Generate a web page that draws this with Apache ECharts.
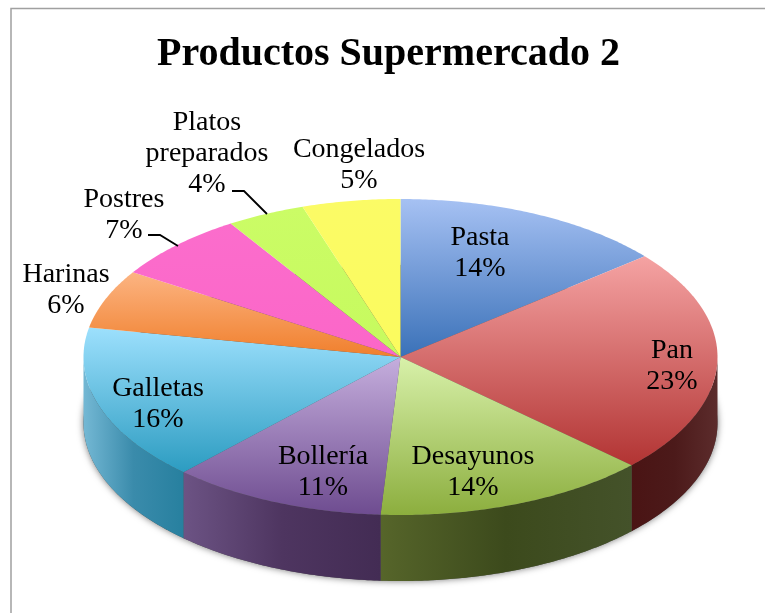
<!DOCTYPE html>
<html>
<head>
<meta charset="utf-8">
<title>Productos Supermercado 2</title>
<script src="https://cdn.jsdelivr.net/npm/echarts@6/dist/echarts.min.js"></script>
<style>
  html, body { margin: 0; padding: 0; background: #fff; }
  #chart { width: 765px; height: 613px; }
</style>
</head>
<body>
<div id="chart"></div>
<script>
"use strict";

var categories = ['Pasta', 'Pan', 'Desayunos', 'Bollería', 'Galletas', 'Harinas', 'Postres', 'Platos preparados', 'Congelados'];
var shares = [14, 23, 14, 11, 16, 6, 7, 4, 5];

// top face: light -> saturated, side wall: left -> middle -> right
var topColors = [
  ['#a6c1f3', '#3a71b8'], ['#f5a3a3', '#b23433'], ['#d8f1aa', '#8cae3e'],
  ['#c5aedd', '#6e4c90'], ['#9de0fd', '#2c9cc1'], ['#fcb482', '#f07f2c'],
  ['#fb6dcc', '#fb66c8'], ['#cbfc66', '#c6fa5e'], ['#fbfb66', '#fbfb5e']
];
var sideColors = [
  ['#2c5487', '#2c5487', '#2c5487'], ['#4a1414', '#4c1a1a', '#5c2c2c'], ['#56652a', '#3c4a1c', '#44522a'],
  ['#6c5384', '#4e3560', '#432c54'], ['#74b8d4', '#3a8bab', '#27809f'], ['#b5602a', '#b5602a', '#b5602a'],
  ['#b84a92', '#b84a92', '#b84a92'], ['#92b848', '#92b848', '#92b848'], ['#b8b848', '#b8b848', '#b8b848']
];
// label centres in page pixels
var labelSpots = [[480, 253], [672, 366], [473, 472], [323, 472], [158, 404], [66, 290], [124, 215], [207, 154], [359, 165]];
// leader lines: only Postres and Platos preparados have one
var leaderLines = {
  6: [[148, 235], [160, 235], [178, 246]],
  7: [[232, 191], [244, 191], [267, 214]]
};

var cx = 400.5, cy = 357, rx = 317, ry = 158, depth = 66;
var labelFont = '"Liberation Serif", serif';

var total = shares.reduce(function (a, b) { return a + b; }, 0);

function rimPoint(t, dy) {
  // t is the clockwise angle from 12 o'clock, in radians
  return [cx + rx * Math.sin(t), cy - ry * Math.cos(t) + dy];
}

function arcPoints(from, to, dy) {
  var n = Math.max(2, Math.ceil((to - from) / 0.01));
  var pts = [];
  for (var i = 0; i <= n; i++) {
    pts.push(rimPoint(from + (to - from) * i / n, dy));
  }
  return pts;
}

function renderSlice(params, api) {
  var i = params.dataIndex;
  var before = 0;
  for (var k = 0; k < i; k++) before += shares[k];
  var from = before / total * 2 * Math.PI;
  var to = (before + api.value(1)) / total * 2 * Math.PI;
  var children = [];

  // wall only shows on the front half of the rim
  var a = Math.max(from, Math.PI / 2), b = Math.min(to, Math.PI * 1.5);
  if (b > a) {
    var wall = arcPoints(a, b, 0).concat(arcPoints(a, b, depth).reverse());
    children.push({
      type: 'polygon',
      shape: { points: wall },
      style: {
        fill: new echarts.graphic.LinearGradient(0, 0, 1, 0, [
          { offset: 0, color: sideColors[i][0] },
          { offset: 0.5, color: sideColors[i][1] },
          { offset: 1, color: sideColors[i][2] }
        ])
      }
    });
  }

  children.push({
    type: 'polygon',
    shape: { points: [[cx, cy]].concat(arcPoints(from, to, 0)) },
    style: {
      fill: new echarts.graphic.LinearGradient(0, 0, 0, 1, [
        { offset: 0, color: topColors[i][0] },
        { offset: 1, color: topColors[i][1] }
      ])
    }
  });
  return { type: 'group', children: children };
}

function renderBase() {
  return {
    type: 'polygon',
    shape: { points: arcPoints(0, 2 * Math.PI, depth) },
    style: { fill: '#555', shadowBlur: 7, shadowColor: 'rgba(0,0,0,0.55)' }
  };
}

function renderLabel(params, api) {
  var i = params.dataIndex;
  var children = [{
    type: 'text',
    style: {
      text: categories[i].replace(' ', '\n') + '\n' + api.value(1) + '%',
      x: labelSpots[i][0],
      y: labelSpots[i][1],
      align: 'center',
      verticalAlign: 'middle',
      fontFamily: labelFont,
      fontSize: 28,
      lineHeight: 31,
      fill: '#000'
    }
  }];
  if (leaderLines[i]) {
    children.push({
      type: 'polyline',
      shape: { points: leaderLines[i] },
      style: { fill: null, stroke: '#000', lineWidth: 1.8 }
    });
  }
  return { type: 'group', children: children };
}

var seriesData = shares.map(function (v, i) { return { name: categories[i], value: [i, v] }; });

var chart = echarts.init(document.getElementById('chart'));
chart.setOption({
  animation: false,
  backgroundColor: '#fff',
  title: {
    text: 'Productos Supermercado 2',
    left: 383.5,
    top: 30,
    textAlign: 'center',
    textStyle: { fontFamily: labelFont, fontWeight: 'bold', fontSize: 40, color: '#000' }
  },
  graphic: [{
    type: 'polyline',
    silent: true,
    shape: { points: [[11, 613], [11, 8.5], [765, 8.5]] },
    style: { fill: null, stroke: '#a0a0a0', lineWidth: 1.5 }
  }],
  series: [
    { type: 'custom', coordinateSystem: 'none', silent: true, z: 1, data: [[0]], renderItem: renderBase },
    { type: 'custom', coordinateSystem: 'none', silent: true, z: 2, data: seriesData, renderItem: renderSlice },
    { type: 'custom', coordinateSystem: 'none', silent: true, z: 3, data: seriesData, renderItem: renderLabel }
  ]
});
</script>
</body>
</html>
